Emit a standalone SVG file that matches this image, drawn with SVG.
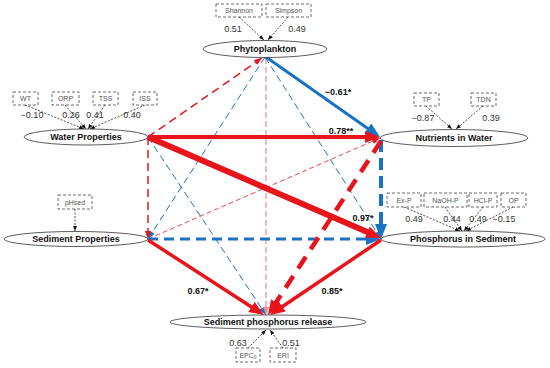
<svg xmlns="http://www.w3.org/2000/svg" width="550" height="368" viewBox="0 0 550 368">
<style>
.node ellipse{fill:#fff;stroke:#333;stroke-width:0.8}
.node text{font-family:"Liberation Sans",Arial,sans-serif;font-weight:bold;font-size:9px;fill:#111;text-anchor:middle}
.ind rect{fill:#fff;stroke:#444;stroke-width:0.8;stroke-dasharray:3 2}
.ind text{font-family:"Liberation Sans",Arial,sans-serif;font-size:7px;fill:#555;text-anchor:middle}
.load{font-family:"Liberation Sans",Arial,sans-serif;font-size:9px;fill:#333;text-anchor:middle}
.ia{stroke:#222;stroke-width:0.8;stroke-dasharray:2 1.5;fill:none;marker-end:url(#ak)}
.coef{font-family:"Liberation Sans",Arial,sans-serif;font-weight:bold;font-size:9px;fill:#111;text-anchor:middle}
.c{fill:none}
.red{stroke:#e8141b}
.blue{stroke:#1a72c7}
.pink{stroke:#f4878a}
</style>
<defs>
<marker id="rL" markerUnits="userSpaceOnUse" markerWidth="15" markerHeight="12" refX="7" refY="6" orient="auto"><path d="M0,0L15,6L0,12z" fill="#e8141b"/></marker>
<marker id="bL" markerUnits="userSpaceOnUse" markerWidth="15" markerHeight="12" refX="7" refY="6" orient="auto"><path d="M0,0L15,6L0,12z" fill="#1a72c7"/></marker>
<marker id="rS" markerUnits="userSpaceOnUse" markerWidth="8" markerHeight="6" refX="8" refY="3" orient="auto"><path d="M0,0L8,3L0,6z" fill="#e8141b"/></marker>
<marker id="bS" markerUnits="userSpaceOnUse" markerWidth="8" markerHeight="6" refX="8" refY="3" orient="auto"><path d="M0,0L8,3L0,6z" fill="#1a72c7"/></marker>
<marker id="pS" markerUnits="userSpaceOnUse" markerWidth="8" markerHeight="6" refX="8" refY="3" orient="auto"><path d="M0,0L8,3L0,6z" fill="#f4878a"/></marker>
<marker id="ak" markerUnits="userSpaceOnUse" markerWidth="5" markerHeight="4" refX="5" refY="2" orient="auto"><path d="M0,0L5,2L0,4z" fill="#111"/></marker>
</defs>

<g id="connectors">
  <line class="c blue" x1="265" y1="57" x2="148" y2="239" stroke-width="1" stroke-dasharray="7 4" marker-end="url(#bS)"/>
  <line class="c blue" x1="265" y1="57" x2="381" y2="239" stroke-width="1" stroke-dasharray="7 4" marker-end="url(#bS)"/>
  <line class="c blue" x1="148" y1="137" x2="266" y2="315" stroke-width="1" stroke-dasharray="7 4" marker-end="url(#bS)"/>
  <line class="c pink" x1="266" y1="58" x2="266" y2="315" stroke-width="1.2" stroke-dasharray="6 3" marker-end="url(#pS)"/>
  <line class="c red" x1="148" y1="239" x2="380" y2="138" stroke-width="0.8" stroke-dasharray="5 3" marker-end="url(#rS)"/>
  <line class="c red" x1="148" y1="137" x2="262" y2="58" stroke-width="1.5" stroke-dasharray="8 5" marker-end="url(#rS)"/>
  <line class="c red" x1="148" y1="137" x2="148" y2="239" stroke-width="1.5" stroke-dasharray="8 5" marker-end="url(#rS)"/>
  <line class="c blue" x1="148" y1="239" x2="373" y2="239" stroke-width="3" stroke-dasharray="10 6" marker-end="url(#bL)"/>
  <line class="c blue" x1="381" y1="140" x2="381" y2="231" stroke-width="4" stroke-dasharray="12 6" marker-end="url(#bL)"/>
  <line class="c blue" x1="266" y1="57" x2="373.5" y2="132.4" stroke-width="3" marker-end="url(#bL)"/>
  <line class="c red" x1="148" y1="137" x2="372" y2="137" stroke-width="4" marker-end="url(#rL)"/>
  <line class="c red" x1="148" y1="137" x2="373.7" y2="234.8" stroke-width="6" marker-end="url(#rL)"/>
  <line class="c red" x1="381" y1="141" x2="272.3" y2="308.3" stroke-width="4.5" stroke-dasharray="14 9" marker-end="url(#rL)"/>
  <line class="c red" x1="148" y1="240" x2="257.3" y2="310.7" stroke-width="3.5" marker-end="url(#rL)"/>
  <line class="c red" x1="381" y1="240" x2="276.6" y2="310.5" stroke-width="3.5" marker-end="url(#rL)"/>
  <text class="coef" x="338" y="95">−0.61*</text>
  <text class="coef" x="341" y="134">0.78**</text>
  <text class="coef" x="363" y="221">0.97*</text>
  <text class="coef" x="198" y="294">0.67*</text>
  <text class="coef" x="332" y="294">0.85*</text>
</g>

<g id="indicator-arrows">
  <line class="ia" x1="239" y1="17" x2="264" y2="40"/>
  <line class="ia" x1="288" y1="17" x2="268" y2="40"/>
  <line class="ia" x1="25" y1="105" x2="84" y2="129"/>
  <line class="ia" x1="65" y1="105" x2="86" y2="129"/>
  <line class="ia" x1="105" y1="105" x2="88" y2="129"/>
  <line class="ia" x1="145" y1="105" x2="90" y2="129"/>
  <line class="ia" x1="426" y1="106" x2="452" y2="129"/>
  <line class="ia" x1="483" y1="106" x2="456" y2="129"/>
  <line class="ia" x1="404" y1="207" x2="460" y2="231"/>
  <line class="ia" x1="445" y1="207" x2="462" y2="231"/>
  <line class="ia" x1="483" y1="207" x2="464" y2="231"/>
  <line class="ia" x1="513" y1="207" x2="466" y2="231"/>
  <line class="ia" x1="75" y1="209" x2="75" y2="231"/>
  <line class="ia" x1="248" y1="348" x2="266" y2="330"/>
  <line class="ia" x1="283" y1="348" x2="270" y2="330"/>
</g>

<g id="loadings">
  <text class="load" x="233" y="32">0.51</text>
  <text class="load" x="297" y="32">0.49</text>
  <text class="load" x="32" y="118">−0.10</text>
  <text class="load" x="71" y="118">0.26</text>
  <text class="load" x="95" y="118">0.41</text>
  <text class="load" x="132" y="118">0.40</text>
  <text class="load" x="423" y="121">−0.87</text>
  <text class="load" x="491" y="121">0.39</text>
  <text class="load" x="414" y="222">0.49</text>
  <text class="load" x="452" y="222">0.44</text>
  <text class="load" x="478" y="222">0.49</text>
  <text class="load" x="504" y="222">−0.15</text>
  <text class="load" x="238" y="346">0.63</text>
  <text class="load" x="291" y="346">0.51</text>
</g>

<g id="ind-shannon" class="ind"><rect x="216" y="4" width="46" height="13"/><text x="239" y="13">Shannon</text></g>
<g id="ind-simpson" class="ind"><rect x="266" y="4" width="45" height="13"/><text x="288.5" y="13">Simpson</text></g>
<g id="ind-wt" class="ind"><rect x="13" y="92" width="25" height="13"/><text x="25.5" y="101">WT</text></g>
<g id="ind-orp" class="ind"><rect x="52" y="92" width="27" height="13"/><text x="65.5" y="101">ORP</text></g>
<g id="ind-tss" class="ind"><rect x="93" y="92" width="25" height="13"/><text x="105.5" y="101">TSS</text></g>
<g id="ind-iss" class="ind"><rect x="133" y="92" width="24" height="13"/><text x="145" y="101">ISS</text></g>
<g id="ind-tp" class="ind"><rect x="414" y="93" width="25" height="13"/><text x="426.5" y="102">TP</text></g>
<g id="ind-tdn" class="ind"><rect x="471" y="93" width="25" height="13"/><text x="483.5" y="102">TDN</text></g>
<g id="ind-exp" class="ind"><rect x="387" y="193" width="34" height="14"/><text x="404" y="202.5">Ex-P</text></g>
<g id="ind-naohp" class="ind"><rect x="424" y="193" width="43" height="14"/><text x="445.5" y="202.5">NaOH-P</text></g>
<g id="ind-hclp" class="ind"><rect x="469" y="193" width="28" height="14"/><text x="483" y="202.5">HCl-P</text></g>
<g id="ind-op" class="ind"><rect x="501" y="193" width="25" height="14"/><text x="513.5" y="202.5">OP</text></g>
<g id="ind-phsed" class="ind"><rect x="58" y="195" width="34" height="14"/><text x="75" y="204.5">pHsed</text></g>
<g id="ind-epc0" class="ind"><rect x="236" y="348" width="24" height="14"/><text x="248" y="357.5">EPC<tspan font-size="5" dy="1.5">0</tspan></text></g>
<g id="ind-eri" class="ind"><rect x="270" y="348" width="26" height="14"/><text x="283" y="357.5">ERI</text></g>

<g id="node-phytoplankton" class="node"><ellipse cx="265" cy="49" rx="62" ry="8.5"/><text x="265" y="52.2">Phytoplankton</text></g>
<g id="node-water-properties" class="node"><ellipse cx="86" cy="137" rx="62" ry="8"/><text x="86" y="140.2">Water Properties</text></g>
<g id="node-nutrients-in-water" class="node"><ellipse cx="454" cy="138" rx="74" ry="8.5"/><text x="454" y="141.2">Nutrients in Water</text></g>
<g id="node-sediment-properties" class="node"><ellipse cx="76" cy="239" rx="72" ry="7.5"/><text x="76" y="242.2">Sediment Properties</text></g>
<g id="node-phosphorus-in-sediment" class="node"><ellipse cx="463" cy="239" rx="82" ry="8"/><text x="463" y="242.2">Phosphorus in Sediment</text></g>
<g id="node-sediment-p-release" class="node"><ellipse cx="268" cy="322" rx="98" ry="7"/><text x="268" y="325.2">Sediment phosphorus release</text></g>
</svg>
